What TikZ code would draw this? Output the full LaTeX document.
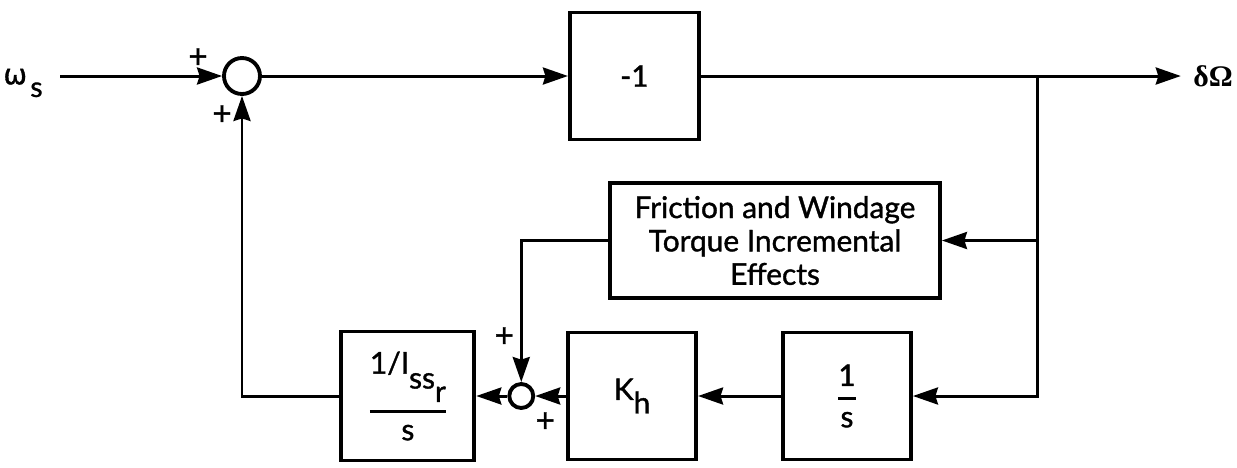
\documentclass[tikz,border=0pt]{standalone}
\usepackage{amsmath}
\usepackage{fontspec}
\setmainfont{Lato}[FakeBold=1.2]
\newfontfamily\greekfont{DejaVu Sans}[FakeBold=1.2]
\newfontfamily\serifgreek{Liberation Serif}
\usetikzlibrary{arrows.meta, positioning, calc}

\begin{document}
\begin{tikzpicture}[
  >={Stealth[length=0.5cm, width=0.34cm, inset=0.05cm]}, line width=1.7pt,
  block/.style = {draw, rectangle, line width=2.2pt, minimum height=2.54cm, minimum width=2.56cm, font=\fontsize{17}{19}\selectfont},
  sum/.style   = {draw, circle, inner sep=0pt, line width=2.2pt, minimum size=0.72cm},
  plus/.style  = {font=\fontsize{19}{19}\selectfont, inner sep=0pt},
]
  \useasboundingbox (0,0) rectangle (24.74,-9.34);

  \node[sum]                                   (sum1)  at (4.84,-1.52) {};
  \coordinate[left=3.24cm of sum1]             (win);
  \node[block, right=6.12cm of sum1, minimum width=2.58cm] (neg) {-1};
  \coordinate[right=9.6cm of neg]              (wout);
  \coordinate[right=6.74cm of neg]             (br);

  \node[inner sep=0pt, anchor=east, font=\fontsize{16}{16}\selectfont] (wlab) at ([xshift=-0.32cm, yshift=-0.14cm]win)
    {{\greekfont ω}\hspace{0.12em}\raisebox{-0.45em}{s}};
  \node[inner sep=0pt, right=0.22cm of wout, font=\fontsize{17}{17}\selectfont\bfseries] (dlab)
    {\serifgreek δΩ};

  \node[block, minimum width=6.6cm, minimum height=2.3cm, align=center] (fric) at (15.5,-4.81)
    {Friction and Windage\\Torque Incremental\\Effects};

  \node[block]                                 (integ) at (16.94,-7.92)
    {$\genfrac{}{}{1.6pt}{0}{\mbox{1}}{\mbox{s}}$};
  \node[block, left=1.66cm of integ]           (kh)    {K\raisebox{-0.45em}{h}};
  \node[sum, minimum size=0.48cm, left=0.62cm of kh] (sum2) {};
  \node[block, left=0.62cm of sum2, minimum width=2.66cm, minimum height=2.58cm] (inv)
    {$\genfrac{}{}{1.6pt}{0}{\mbox{1/I\raisebox{-0.5em}{ss\raisebox{-0.45em}{r}}}}{\mbox{s}}$};

  \node[plus] at ([shift={(-0.88,0.36)}]sum1.center) {+};
  \node[plus] at ([shift={(-0.40,-0.78)}]sum1.center) {+};
  \node[plus] at ([shift={(-0.34,1.18)}]sum2.center) {+};
  \node[plus] at ([shift={(0.48,-0.52)}]sum2.center) {+};

  \draw[->] (win)    -- (sum1);
  \draw[->] (sum1)   -- (neg);
  \draw[->] (neg)    -- (wout);
  \draw[->] (br)     |- (integ);
  \draw[->] (br |- fric.east) -- (fric);
  \draw[->] (fric)   -| (sum2);
  \draw[->] (integ)  -- (kh);
  \draw[->] (kh)     -- (sum2);
  \draw[->] (sum2)   -- (inv);
  \draw[->] (inv)    -| (sum1);
\end{tikzpicture}
\end{document}
